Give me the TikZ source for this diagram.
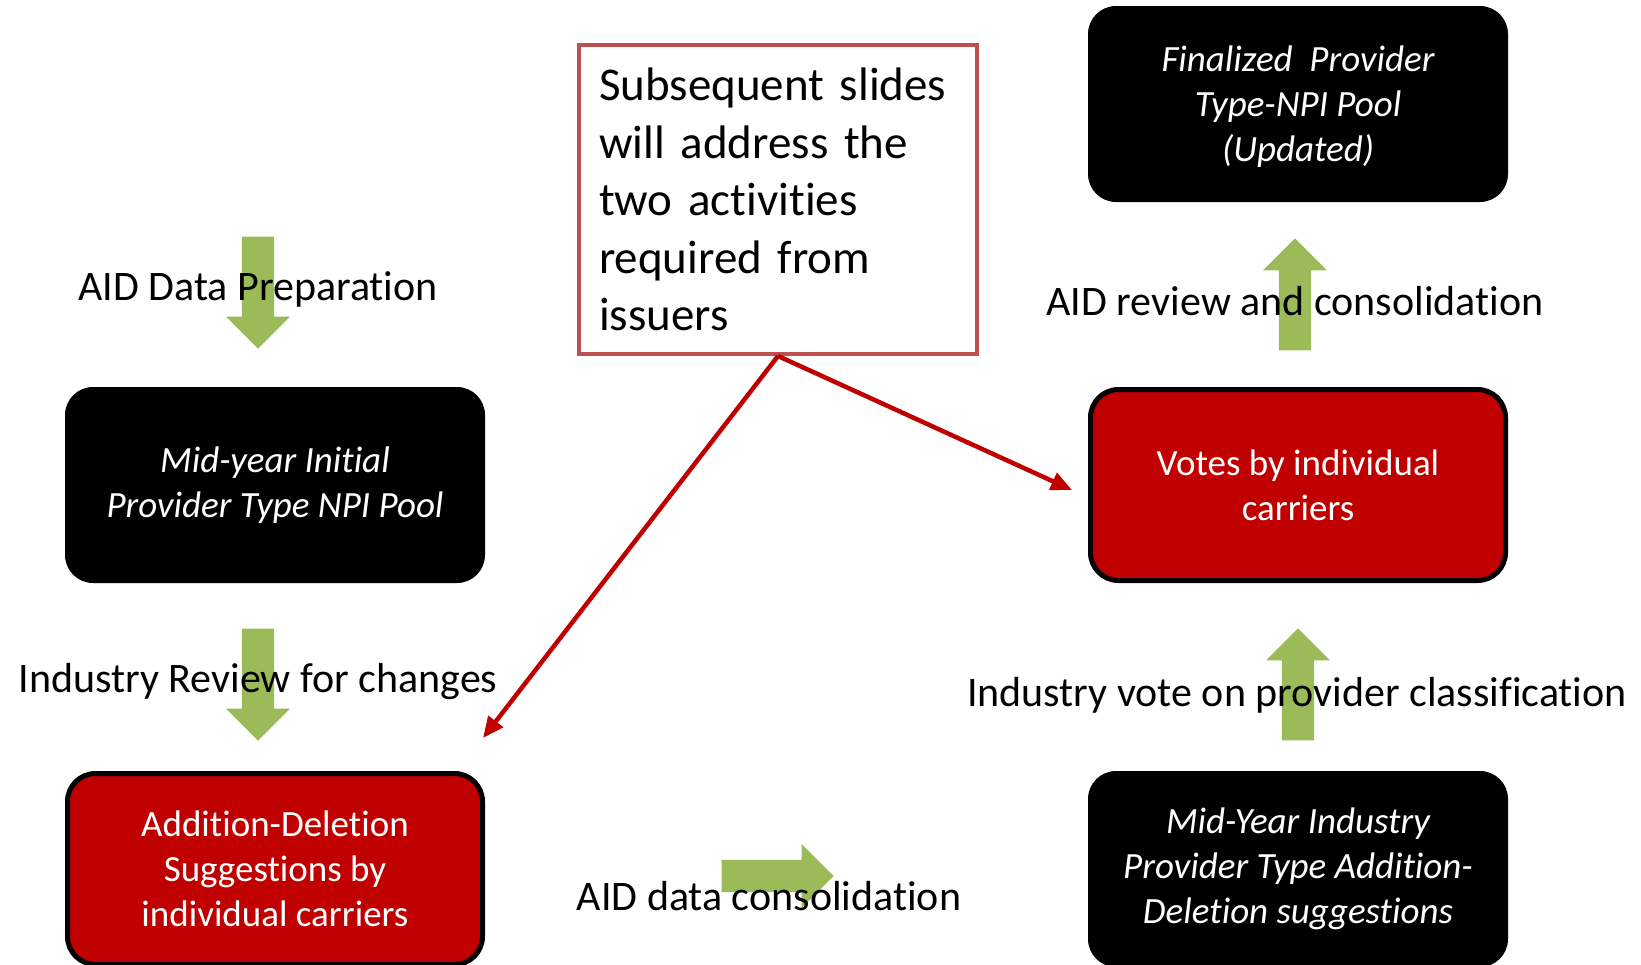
\documentclass[tikz,border=0pt]{standalone}
\usepackage{fontspec}
\setmainfont{Carlito}[Ligatures=NoCommon]
\usetikzlibrary{shapes.arrows,arrows.meta}
\definecolor{leaf}{HTML}{9BBB59}
\definecolor{darkred}{HTML}{C00000}
\definecolor{softred}{HTML}{C0504D}

\tikzset{
  blackbox/.style={rectangle, rounded corners=28pt, fill=black, text=white,
    minimum width=420pt, minimum height=196pt, align=center,
    font=\fontsize{37}{45}\selectfont\itshape},
  redbox/.style={rectangle, rounded corners=28pt, fill=darkred, draw=black,
    line width=5pt, text=white, minimum width=415pt, minimum height=191pt,
    align=center, font=\fontsize{37}{45}\selectfont},
  notebox/.style={rectangle, draw=softred, line width=4pt, minimum width=398pt,
    minimum height=309pt, text width=358pt, inner xsep=19pt, align=left,
    font=\fontsize{47}{57.5}\selectfont},
  greenarrow/.style={single arrow, fill=leaf, inner sep=16pt,
    minimum height=112pt, single arrow head extend=16pt, anchor=tip},
  steplabel/.style={anchor=base, inner sep=0pt, font=\fontsize{42}{50}\selectfont},
  redline/.style={draw=darkred, line width=4.5pt, -{Triangle[length=21pt,width=18pt]}}
}

\begin{document}
\begin{tikzpicture}[x=1pt,y=-1pt]
\useasboundingbox (0,0) rectangle (1641,964);

% green block arrows, placed by their tips
\node[greenarrow,shape border rotate=270] (down1) at (258,349) {};
\node[greenarrow,shape border rotate=270] (down2) at (258,741) {};
\node[greenarrow,shape border rotate=90] (up1) at (1295,238) {};
\node[greenarrow,shape border rotate=90] (up2) at (1298,628) {};
\node[greenarrow] (right1) at (834,876) {};

% step labels
\node[steplabel] (prep) at (258,300) {AID Data Preparation};
\node[steplabel] (review) at (258,692) {Industry Review for changes};
\node[steplabel] (consol) at (769,910) {AID data consolidation};
\node[steplabel] (vote) at (1297,706) {Industry vote on provider classification};
\node[steplabel] (final) at (1295,315) {AID review and consolidation};

% process boxes
\node[blackbox] (initpool) at (275,485) {Mid-year Initial\\Provider Type NPI Pool};
\node[redbox] (suggest) at (275,869) {Addition-Deletion\\Suggestions by\\individual carriers};
\node[blackbox] (industry) at (1298,869) {Mid-Year Industry\\Provider Type Addition-\\Deletion suggestions};
\node[redbox] (votes) at (1298,485) {Votes by individual\\carriers};
\node[blackbox, text depth=0pt] (finalpool) at (1298,104) {Finalized\ \ Provider\\Type-NPI Pool\\(Updated)};

% note and its pointers
\node[notebox] (note) at (778,199.5) {Subsequent slides\\will address the\\two activities\\required from\\issuers};

\coordinate (tipA) at (483,738);
\coordinate (tipB) at (1072,490);
\draw[redline] (note.south) -- (tipA);
\draw[redline] (note.south) -- (tipB);
\end{tikzpicture}
\end{document}
